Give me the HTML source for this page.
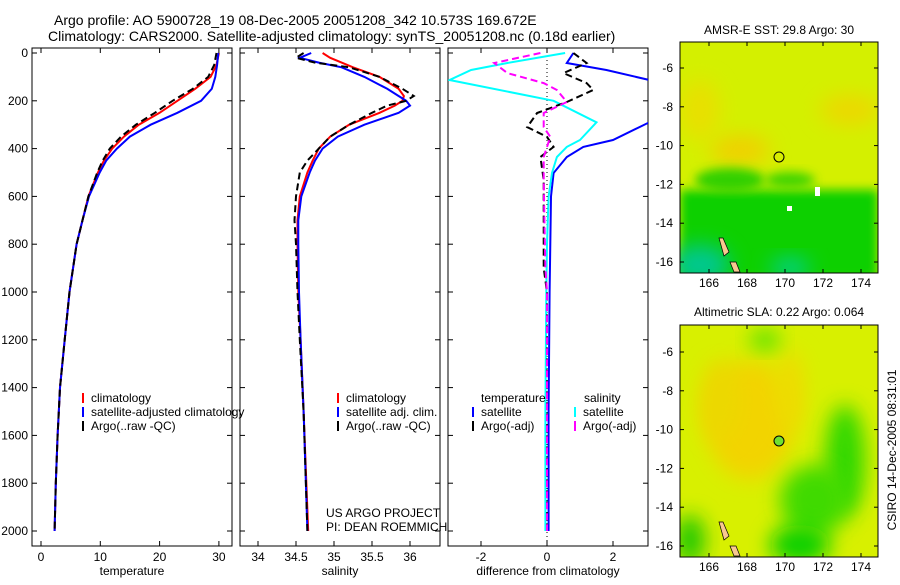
<!DOCTYPE html>
<html><head><meta charset="utf-8"><style>
body{margin:0;background:#fff;font-family:"Liberation Sans",sans-serif;}
svg text{font-family:"Liberation Sans",sans-serif;font-size:12px;fill:#000;}
</style></head><body>
<svg id="c" width="900" height="580" xmlns="http://www.w3.org/2000/svg">
<defs>
<filter id="bl" x="-50%" y="-50%" width="200%" height="200%"><feGaussianBlur stdDeviation="10"/></filter>
<filter id="bl2" x="-50%" y="-50%" width="200%" height="200%"><feGaussianBlur stdDeviation="5"/></filter>
<clipPath id="m1c"><rect x="680" y="42" width="198" height="231"/></clipPath>
<clipPath id="m2c"><rect x="680" y="325" width="198" height="232"/></clipPath>
<clipPath id="p1c"><rect x="32" y="48" width="200" height="498"/></clipPath>
<clipPath id="p2c"><rect x="240" y="48" width="200" height="498"/></clipPath>
<clipPath id="p3c"><rect x="448" y="48" width="200" height="498"/></clipPath>
</defs>
<text x="54" y="25" style="font-size:14px">Argo profile: AO 5900728_19 08-Dec-2005 20051208_342 10.573S 169.672E</text>
<text x="48" y="41" style="font-size:14px">Climatology: CARS2000. Satellite-adjusted climatology: synTS_20051208.nc (0.18d earlier)</text>

<!-- map 1 -->
<g clip-path="url(#m1c)">
<rect x="680" y="42" width="198" height="231" fill="#d4f000"/>
<ellipse cx="740" cy="150" rx="30" ry="15" fill="#f0d000" filter="url(#bl)"/>
<ellipse cx="700" cy="110" rx="20" ry="30" fill="#e8e000" filter="url(#bl)"/>
<ellipse cx="850" cy="110" rx="30" ry="15" fill="#ecd800" filter="url(#bl)"/>
<rect x="680" y="190" width="198" height="90" fill="#10d000" filter="url(#bl2)"/>
<ellipse cx="730" cy="180" rx="35" ry="12" fill="#30d000" filter="url(#bl2)"/>
<ellipse cx="790" cy="180" rx="25" ry="8" fill="#40d400" filter="url(#bl2)"/>
<ellipse cx="700" cy="265" rx="30" ry="20" fill="#00c890" filter="url(#bl)"/>
<ellipse cx="790" cy="268" rx="20" ry="10" fill="#00d090" filter="url(#bl)"/>
<rect x="815" y="187" width="5" height="9" fill="#fff"/>
<rect x="787" y="206" width="5" height="5" fill="#fff"/>
<path d="M719 238 l4 0 l6 14 l-5 4 z M730 262 l6 0 l4 10 l-6 0 z" fill="#f8c890" stroke="#000" stroke-width="0.7"/>
<circle cx="779" cy="157" r="5" fill="none" stroke="#000"/>
</g>
<rect x="680" y="42" width="198" height="231" fill="none" stroke="#000"/>
<text x="779" y="34" text-anchor="middle">AMSR-E SST: 29.8 Argo: 30</text>

<!-- map 2 -->
<g clip-path="url(#m2c)">
<rect x="680" y="325" width="198" height="232" fill="#d8f000"/>
<ellipse cx="750" cy="420" rx="45" ry="60" fill="#f2d400" filter="url(#bl)"/>
<ellipse cx="720" cy="400" rx="20" ry="40" fill="#ecd800" filter="url(#bl)"/>
<ellipse cx="790" cy="390" rx="15" ry="40" fill="#eedc00" filter="url(#bl)"/>
<ellipse cx="765" cy="340" rx="15" ry="10" fill="#50e000" filter="url(#bl)"/>
<ellipse cx="845" cy="460" rx="20" ry="55" fill="#30d800" filter="url(#bl)"/>
<ellipse cx="815" cy="500" rx="35" ry="35" fill="#40da00" filter="url(#bl)"/>
<ellipse cx="800" cy="545" rx="30" ry="20" fill="#10d000" filter="url(#bl)"/>
<ellipse cx="690" cy="540" rx="15" ry="25" fill="#20c800" filter="url(#bl)"/>
<path d="M719 522 l4 0 l6 14 l-5 4 z M730 546 l6 0 l4 10 l-6 0 z" fill="#f8c890" stroke="#000" stroke-width="0.7"/>
<circle cx="779" cy="441" r="5" fill="#70e030" stroke="#000"/>
</g>
<rect x="680" y="325" width="198" height="232" fill="none" stroke="#000"/>
<text x="779" y="316" text-anchor="middle">Altimetric SLA: 0.22 Argo: 0.064</text>
<text transform="translate(896,450) rotate(-90)" text-anchor="middle">CSIRO 14-Dec-2005 08:31:01</text>

<text x="326" y="517">US ARGO PROJECT</text>
<text x="326" y="531">PI: DEAN ROEMMICH</text>
<g id="g"></g>
</svg>
<script>
// depth axis
const depthTicks=[0,200,400,600,800,1000,1200,1400,1600,1800,2000];
// temperature panel data
const tDepth=[0,50,100,150,200,250,300,350,400,450,500,600,700,800,1000,1200,1400,1600,1800,2000];
const tClim=[30,29.6,28.6,26,23,20,16.5,14,12,10.6,9.6,8,7,6,4.8,4,3.2,2.8,2.5,2.3];
const tSat=[29.9,29.7,29.4,28.8,27,23,18.5,15,12.8,11,9.9,8.1,7,6,4.8,4,3.2,2.8,2.5,2.3];
const tArgo=[29.6,29.2,28.2,25.6,22.2,19.2,16,13.5,11.6,10.4,9.5,8,7,6,4.8,4,3.2,2.8,2.5,2.3];
const tTicks=[0,10,20,30];
// salinity panel data
const sDepth=[0,20,40,60,100,150,180,200,220,250,300,350,400,450,500,600,700,800,1000,1200,1500,2000];
const sClim=[34.85,34.95,35.1,35.25,35.6,35.85,35.92,35.9,35.8,35.6,35.2,34.95,34.8,34.72,34.65,34.55,34.52,34.52,34.53,34.56,34.6,34.66];
const sSat=[34.7,34.55,34.8,35.1,35.4,35.7,35.85,35.95,36,35.85,35.4,35.05,34.85,34.75,34.68,34.57,34.53,34.53,34.54,34.56,34.6,34.65];
const sArgo=[34.6,34.5,34.75,35.2,35.6,35.9,36.05,35.95,35.7,35.5,35.2,34.95,34.8,34.65,34.55,34.5,34.48,34.5,34.52,34.55,34.6,34.65];
const sTicks=[34,34.5,35,35.5,36];
// difference panel data
const dDepth=[0,42,71,113,200,290,364,393,435,502,600,800,1000,1500,2000];
const dTSat=[0.8,0.6,1.8,3.1,4.5,3.1,2.0,1.1,0.6,0.2,0.12,0.1,0.08,0.05,0.05];
const dSSat=[0.55,-1.2,-2.3,-2.95,0.2,1.5,1.0,0.6,0.3,0.15,0.05,0,-0.02,-0.05,-0.05];
const dArgoDepth=[0,42,84,126,155,205,251,310,351,393,435,531,700,900,1000,1500,2000];
const dTArgo=[0.8,1.2,0.5,1.2,1.4,0.6,-0.3,-0.6,0,0.2,-0.2,-0.1,-0.1,-0.1,0,0,0];
const dSArgo=[-0.2,-1.6,-1.2,-0.1,0.3,0.6,-0.1,-0.1,0.1,0,-0.1,-0.1,-0.08,-0.05,0,0,0];
const dTicks=[-2,0,2];
// map ticks
const lonTicks=[166,168,170,172,174];
const latTicks=[-6,-8,-10,-12,-14,-16];

const NS='http://www.w3.org/2000/svg',G=document.getElementById('g');
function el(t,a,p){const e=document.createElementNS(NS,t);for(const k in a)e.setAttribute(k,a[k]);(p||G).appendChild(e);return e;}
function yD(d){return 53+d*0.239;}
const panels=[
 {x0:32,fx:v=>41+v*5.93,ticks:tTicks,label:'temperature',clip:'p1c',name:'temperature'},
 {x0:240,fx:v=>258+(v-34)*76,ticks:sTicks,label:'salinity',clip:'p2c',name:'salinity'},
 {x0:448,fx:v=>547+v*33,ticks:dTicks,label:'difference from climatology',clip:'p3c',name:'difference'}];
function line(p,xs,ds,col,dash,nm){
 const pts=xs.map((v,i)=>p.fx(v).toFixed(1)+','+yD(ds[i]).toFixed(1)).join(' ');
 const e=el('polyline',{points:pts,fill:'none',stroke:col,'stroke-width':2,'clip-path':'url(#'+p.clip+')'});
 if(dash)e.setAttribute('stroke-dasharray','7,4');
 
 
}
panels.forEach((p,pi)=>{
 const f=el('rect',{x:p.x0,y:48,width:200,height:498,fill:'none',stroke:'#000'});
 
 
 p.ticks.forEach(v=>{const x=p.fx(v);
  el('line',{x1:x,x2:x,y1:48,y2:53,stroke:'#000'});el('line',{x1:x,x2:x,y1:541,y2:546,stroke:'#000'});
  const t=el('text',{x:x,y:561,'text-anchor':'middle'});t.textContent=v;
  
  });
 depthTicks.forEach(d=>{const y=yD(d);
  el('line',{x1:p.x0,x2:p.x0+5,y1:y,y2:y,stroke:'#000'});el('line',{x1:p.x0+195,x2:p.x0+200,y1:y,y2:y,stroke:'#000'});
  if(pi===0){const t=el('text',{x:28,y:y+4,'text-anchor':'end'});t.textContent=d;
   
   }});
 const l=el('text',{x:p.x0+100,y:575,'text-anchor':'middle'});l.textContent=p.label;
 
 
});
const [P1,P2,P3]=panels;
line(P1,tClim,tDepth,'#f00',false,'temp-climatology-line');
line(P1,tSat,tDepth,'#00f',false,'temp-satellite-line');
line(P1,tArgo,tDepth,'#000',true,'temp-argo-line');
line(P2,sClim,sDepth,'#f00',false,'sal-climatology-line');
line(P2,sSat,sDepth,'#00f',false,'sal-satellite-line');
line(P2,sArgo,sDepth,'#000',true,'sal-argo-line');
el('line',{x1:547,x2:547,y1:48,y2:546,stroke:'#000','stroke-dasharray':'1,3'});
line(P3,dTSat,dDepth,'#00f',false,'diff-temp-satellite-line');
line(P3,dSSat,dDepth,'#0ff',false,'diff-sal-satellite-line');
line(P3,dTArgo,dArgoDepth,'#000',true,'diff-temp-argo-line');
line(P3,dSArgo,dArgoDepth,'#f0f',true,'diff-sal-argo-line');
function leg(x,y,col,txt,nm){
 el('line',{x1:x,x2:x,y1:y-9,y2:y+1,stroke:col,'stroke-width':2});
 const t=el('text',{x:x+8,y:y});t.textContent=txt;
 
 
}
leg(83,402,'#f00','climatology','legend-climatology');
leg(83,416,'#00f','satellite-adjusted climatology','legend-satellite-adjusted');
leg(83,430,'#000','Argo(..raw -QC)','legend-argo');
leg(338,402,'#f00','climatology','legend2-climatology');
leg(338,416,'#00f','satellite adj. clim.','legend2-satellite');
leg(338,430,'#000','Argo(..raw -QC)','legend2-argo');
let t=el('text',{x:481,y:402});t.textContent='temperature';


t=el('text',{x:584,y:402});t.textContent='salinity';


leg(473,416,'#00f','satellite','legend3-temp-satellite');
leg(473,430,'#000','Argo(-adj)','legend3-temp-argo');
leg(575,416,'#0ff','satellite','legend3-sal-satellite');
leg(575,430,'#f0f','Argo(-adj)','legend3-sal-argo');
// map ticks
[[42,273,68],[325,557,352]].forEach(([y0,y1,yTop],mi)=>{
 lonTicks.forEach(v=>{const x=709+(v-166)*19;
  el('line',{x1:x,x2:x,y1:y0,y2:y0+4,stroke:'#000'});el('line',{x1:x,x2:x,y1:y1-4,y2:y1,stroke:'#000'});
  const e=el('text',{x:x,y:y1+14,'text-anchor':'middle'});e.textContent=v;
  
  });
 latTicks.forEach(v=>{const y=yTop+(-6-v)*19.4;
  el('line',{x1:680,x2:684,y1:y,y2:y,stroke:'#000'});el('line',{x1:874,x2:878,y1:y,y2:y,stroke:'#000'});
  const e=el('text',{x:673,y:y+4,'text-anchor':'end'});e.textContent=v;
  
  });
});
</script>
</body></html>
